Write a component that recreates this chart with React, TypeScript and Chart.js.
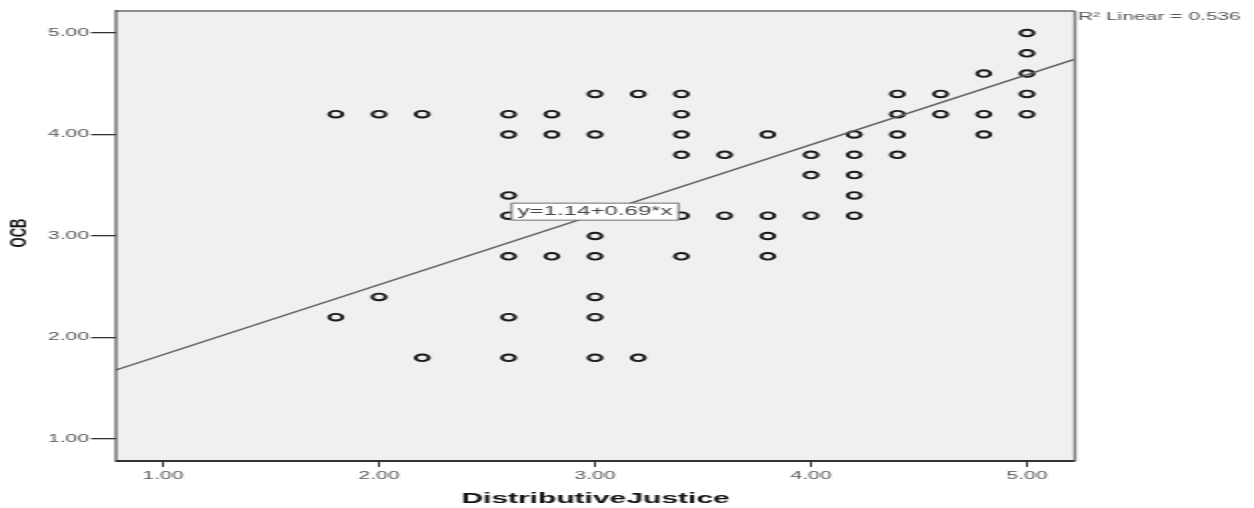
import React, { useEffect, useRef } from "react";
import { Chart, registerables } from "chart.js";

Chart.register(...registerables);

// ---- data ----
const justiceValues: number[] = [
  1.8, 1.8,
  2.0, 2.0,
  2.2, 2.2,
  2.6, 2.6, 2.6, 2.6, 2.6, 2.6, 2.6,
  2.8, 2.8, 2.8,
  3.0, 3.0, 3.0, 3.0, 3.0, 3.0, 3.0, 3.0,
  3.2, 3.2,
  3.4, 3.4, 3.4, 3.4, 3.4, 3.4,
  3.6, 3.6,
  3.8, 3.8, 3.8, 3.8,
  4.0, 4.0, 4.0,
  4.2, 4.2, 4.2, 4.2, 4.2,
  4.4, 4.4, 4.4, 4.4,
  4.6, 4.6,
  4.8, 4.8, 4.8,
  5.0, 5.0, 5.0, 5.0, 5.0,
];
const ocbValues: number[] = [
  4.2, 2.2,
  4.2, 2.4,
  4.2, 1.8,
  4.2, 4.0, 3.4, 3.2, 2.8, 2.2, 1.8,
  4.2, 4.0, 2.8,
  4.4, 4.0, 3.2, 3.0, 2.8, 2.4, 2.2, 1.8,
  4.4, 1.8,
  4.4, 4.2, 4.0, 3.8, 3.2, 2.8,
  3.8, 3.2,
  4.0, 3.2, 3.0, 2.8,
  3.8, 3.6, 3.2,
  4.0, 3.8, 3.6, 3.4, 3.2,
  4.4, 4.2, 4.0, 3.8,
  4.4, 4.2,
  4.6, 4.2, 4.0,
  5.0, 4.8, 4.6, 4.4, 4.2,
];
const fitLineX: number[] = [0.782, 5.222];
const fitLineY: number[] = [1.68, 4.743];
const xTickValues: number[] = [1, 2, 3, 4, 5];
const yTickValues: number[] = [1, 2, 3, 4, 5];
const xRange: number[] = [0.782, 5.222];
const yRange: number[] = [0.783, 5.217];
const fitEquation = "y=1.14+0.69*x";
const fitLabelPosition: number[] = [3.0, 3.24];
const rSquaredText = "R\u00B2 Linear = 0.536";
const xTitle = "DistributiveJustice";
const yTitle = "OCB";

// ---- layout (the whole picture is stretched horizontally by 2) ----
const STRETCH = 2;
const CW = 627;
const CH = 508;
const FONT = '"Liberation Sans", Arial, sans-serif';

const decorPlugin = {
  id: "decor",
  beforeDraw(chart: any) {
    const { ctx, chartArea: a } = chart;
    ctx.save();
    ctx.fillStyle = "#ffffff";
    ctx.fillRect(0, 0, chart.width, chart.height);
    ctx.fillStyle = "#f0f0f0";
    ctx.fillRect(a.left, a.top, a.right - a.left, a.bottom - a.top);
    ctx.restore();
  },
  afterDraw(chart: any) {
    const { ctx, chartArea: a, scales } = chart;
    ctx.save();
    // frame: top and right lighter
    ctx.strokeStyle = "#8c8c8c";
    ctx.lineWidth = 2;
    ctx.beginPath();
    ctx.moveTo(a.left, a.top);
    ctx.lineTo(a.right, a.top);
    ctx.stroke();
    ctx.strokeStyle = "#7a7a7a";
    ctx.lineWidth = 1.5;
    ctx.beginPath();
    ctx.moveTo(a.right, a.top);
    ctx.lineTo(a.right, a.bottom);
    ctx.stroke();
    // left and bottom axis lines
    ctx.strokeStyle = "#333333";
    ctx.lineWidth = 1;
    ctx.beginPath();
    ctx.moveTo(a.left, a.top - 1);
    ctx.lineTo(a.left, a.bottom + 1);
    ctx.stroke();
    ctx.lineWidth = 2;
    ctx.beginPath();
    ctx.moveTo(a.left, a.bottom);
    ctx.lineTo(a.right, a.bottom);
    ctx.stroke();

    // equation label box
    const cx = scales.x.getPixelForValue(fitLabelPosition[0]);
    const cy = scales.y.getPixelForValue(fitLabelPosition[1]);
    ctx.font = `12px ${FONT}`;
    const tw = ctx.measureText(fitEquation).width;
    const bw = tw + 6;
    const bh = 17;
    ctx.fillStyle = "#ffffff";
    ctx.fillRect(cx - bw / 2, cy - bh / 2, bw, bh);
    ctx.strokeStyle = "#707070";
    ctx.lineWidth = 1;
    ctx.strokeRect(cx - bw / 2, cy - bh / 2, bw, bh);
    ctx.fillStyle = "#444444";
    ctx.textAlign = "center";
    ctx.textBaseline = "middle";
    ctx.fillText(fitEquation, cx, cy + 0.5);

    // R squared note
    ctx.font = `10.5px ${FONT}`;
    ctx.fillStyle = "#555555";
    ctx.textAlign = "left";
    ctx.textBaseline = "middle";
    ctx.fillText(rSquaredText, a.right + 1.5, 17.5);
    ctx.restore();

    // y axis title (slightly condensed)
    ctx.save();
    ctx.translate(10, (a.top + a.bottom) / 2 - 3);
    ctx.scale(0.8, 1);
    ctx.rotate(-Math.PI / 2);
    ctx.font = `bold 13px ${FONT}`;
    ctx.fillStyle = "#111111";
    ctx.textAlign = "center";
    ctx.textBaseline = "middle";
    ctx.fillText(yTitle, 0, 0);
    ctx.restore();
  },
};

export default function App() {
  const canvasRef = useRef<HTMLCanvasElement | null>(null);

  useEffect(() => {
    const canvas = canvasRef.current;
    if (!canvas) return;
    const points = justiceValues.map((x, i) => ({ x, y: ocbValues[i] }));
    const fit = fitLineX.map((x, i) => ({ x, y: fitLineY[i] }));

    const chart = new Chart(canvas, {
      type: "scatter",
      data: {
        datasets: [
          {
            type: "line",
            data: fit,
            borderColor: "#5c5c5c",
            borderWidth: 1.3,
            pointRadius: 0,
            showLine: true,
            fill: false,
          } as any,
          {
            data: points,
            pointRadius: 3.3,
            pointBorderWidth: 1.9,
            pointBorderColor: "#1a1a1a",
            pointBackgroundColor: "rgba(0,0,0,0)",
            pointStyle: "circle",
            showLine: false,
          },
        ],
      },
      options: {
        responsive: false,
        animation: false,
        events: [],
        layout: { padding: { top: 11, right: CW - 537.5, bottom: 0, left: 0 } },
        plugins: {
          legend: { display: false },
          tooltip: { enabled: false },
        },
        scales: {
          x: {
            type: "linear",
            min: xRange[0],
            max: xRange[1],
            afterBuildTicks: (s: any) => {
              s.ticks = xTickValues.map((v) => ({ value: v }));
            },
            afterFit: (s: any) => {
              s.height = 47;
            },
            ticks: {
              callback: (v: any) => Number(v).toFixed(2),
              font: { family: FONT, size: 10.5 },
              color: "#555555",
              padding: 3,
              maxRotation: 0,
              autoSkip: false,
            },
            grid: {
              drawOnChartArea: false,
              drawTicks: true,
              tickLength: 6,
              color: "#333333",
              tickColor: "#333333",
              lineWidth: 1,
            },
            border: { display: false },
            title: {
              display: true,
              text: xTitle,
              color: "#111111",
              font: { family: FONT, size: 15, weight: "bold" },
              padding: { top: 0, bottom: 0.5 },
            },
          },
          y: {
            type: "linear",
            min: yRange[0],
            max: yRange[1],
            afterBuildTicks: (s: any) => {
              s.ticks = yTickValues.map((v) => ({ value: v }));
            },
            afterFit: (s: any) => {
              s.width = 58;
            },
            ticks: {
              callback: (v: any) => Number(v).toFixed(2),
              font: { family: FONT, size: 10.5 },
              color: "#555555",
              padding: 1,
              autoSkip: false,
            },
            grid: {
              drawOnChartArea: false,
              drawTicks: true,
              tickLength: 12.5,
              color: "#333333",
              tickColor: "#333333",
              lineWidth: 1.3,
            },
            border: { display: false },
          },
        },
      } as any,
      plugins: [decorPlugin],
    });

    return () => chart.destroy();
  }, []);

  return (
    <div
      style={{
        position: "absolute",
        left: 0,
        top: 0,
        width: CW * STRETCH,
        height: CH,
        overflow: "hidden",
        background: "#ffffff",
      }}
    >
      <div
        style={{
          width: CW,
          height: CH,
          transform: `scaleX(${STRETCH})`,
          transformOrigin: "0 0",
        }}
      >
        <canvas ref={canvasRef} width={CW} height={CH} style={{ display: "block" }} />
      </div>
    </div>
  );
}
